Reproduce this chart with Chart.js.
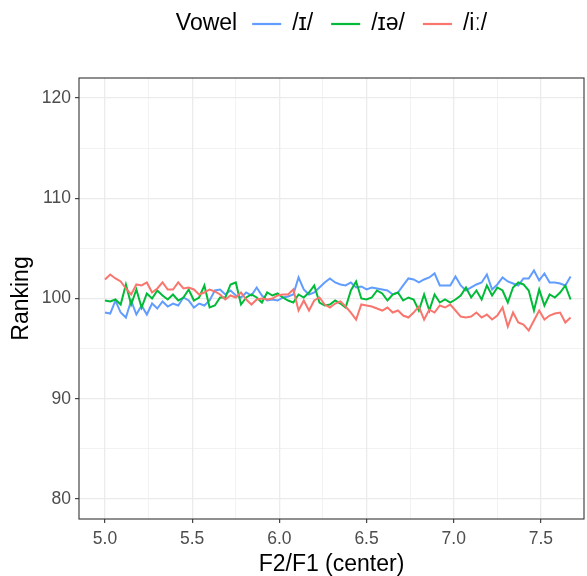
<!DOCTYPE html>
<html>
<head>
<meta charset="utf-8">
<script src="https://cdn.jsdelivr.net/npm/chart.js@4/dist/chart.umd.min.js"></script>
<style>
  html, body { margin: 0; padding: 0; background: #ffffff; }
  #wrap { width: 587px; height: 576px; }
</style>
</head>
<body>
<div id="wrap"><canvas id="vowelChart" width="587" height="576"></canvas></div>
<script>
// F2/F1 (center) values shared by all three vowels
const f2f1 = [5.00, 5.03, 5.06, 5.09, 5.12, 5.15, 5.18, 5.21, 5.24, 5.27,
    5.30, 5.33, 5.36, 5.39, 5.42, 5.45, 5.48, 5.51, 5.54, 5.57,
    5.60, 5.63, 5.66, 5.69, 5.72, 5.75, 5.78, 5.81, 5.84, 5.87,
    5.90, 5.93, 5.96, 5.99, 6.02, 6.05, 6.08, 6.11, 6.14, 6.17,
    6.20, 6.23, 6.26, 6.29, 6.32, 6.35, 6.38, 6.41, 6.44, 6.47,
    6.50, 6.53, 6.56, 6.59, 6.62, 6.65, 6.68, 6.71, 6.74, 6.77,
    6.80, 6.83, 6.86, 6.89, 6.92, 6.95, 6.98, 7.01, 7.04, 7.07,
    7.10, 7.13, 7.16, 7.19, 7.22, 7.25, 7.28, 7.31, 7.34, 7.37,
    7.40, 7.43, 7.46, 7.49, 7.52, 7.55, 7.58, 7.61, 7.64, 7.67];

// Ranking per vowel
const rankI = [98.6, 98.5, 99.8, 98.6, 98.1, 99.8, 98.4, 99.3, 98.4, 99.5,
    99.0, 99.7, 99.2, 99.5, 99.3, 100.1, 99.8, 99.1, 99.5, 99.3,
    99.8, 100.8, 100.9, 100.4, 100.8, 100.3, 100.1, 100.6, 100.3, 101.1,
    100.3, 99.8, 99.9, 99.8, 100.1, 100.2, 100.4, 102.1, 100.9, 100.4,
    100.6, 101.1, 101.6, 102.0, 101.6, 101.4, 101.3, 101.6, 101.1, 101.2,
    100.9, 101.1, 101.0, 100.9, 100.8, 100.4, 100.6, 101.3, 102.0, 101.9,
    101.6, 101.9, 102.1, 102.5, 101.3, 101.3, 101.3, 102.2, 101.3, 100.8,
    101.1, 101.4, 101.6, 102.4, 100.9, 101.4, 102.1, 101.7, 101.5, 101.3,
    102.0, 102.0, 102.8, 101.8, 102.5, 101.6, 101.6, 101.5, 101.3, 102.2];

const rankIe = [99.8, 99.7, 99.9, 99.4, 101.4, 99.4, 100.9, 99.1, 100.5, 100.0,
    100.8, 100.3, 99.9, 100.4, 99.8, 100.1, 100.9, 99.8, 100.1, 101.3,
    99.1, 99.3, 100.1, 100.1, 101.4, 101.6, 99.4, 100.1, 100.4, 100.1,
    99.6, 100.6, 100.3, 100.5, 100.1, 99.8, 99.6, 100.4, 100.1, 100.6,
    101.3, 99.6, 99.3, 99.4, 99.8, 99.5, 99.1, 100.8, 101.7, 100.0,
    99.9, 100.1, 100.8, 100.5, 99.8, 100.4, 100.6, 99.8, 100.1, 99.9,
    98.8, 100.4, 98.8, 100.4, 99.6, 99.9, 99.6, 99.9, 100.3, 101.1,
    100.1, 100.8, 99.9, 101.3, 100.3, 101.1, 100.8, 99.6, 101.1, 101.6,
    101.4, 100.8, 98.8, 100.9, 99.3, 100.4, 100.1, 100.6, 101.3, 99.9];

const rankIi = [101.9, 102.4, 102.0, 101.7, 101.0, 100.4, 101.4, 101.3, 101.6, 100.6,
    101.0, 101.6, 100.9, 100.9, 101.6, 101.0, 101.1, 100.9, 100.4, 100.6,
    100.9, 100.7, 100.4, 99.9, 100.3, 100.1, 100.6, 99.9, 99.4, 99.9,
    100.0, 99.9, 100.0, 100.3, 100.4, 100.4, 100.9, 98.8, 99.8, 98.8,
    99.8, 100.1, 99.4, 99.1, 99.5, 99.7, 99.2, 98.6, 97.9, 99.4,
    99.3, 99.2, 99.0, 98.8, 99.1, 98.6, 98.8, 98.3, 98.1, 98.6,
    99.2, 97.9, 98.9, 98.6, 99.3, 99.1, 99.4, 98.8, 98.2, 98.1,
    98.2, 98.6, 98.1, 98.4, 97.9, 98.3, 99.1, 97.2, 98.6, 97.6,
    97.4, 96.8, 97.8, 98.8, 97.9, 98.3, 98.5, 98.6, 97.6, 98.1];

const vowels = ["/ɪ/", "/ɪə/", "/iː/"];
const vowelColors = ["#619CFF", "#00BA38", "#F8766D"];

const xMajor = [5.0, 5.5, 6.0, 6.5, 7.0, 7.5];
const xMinor = [5.25, 5.75, 6.25, 6.75, 7.25];
const yMajor = [80, 90, 100, 110, 120];
const yMinor = [85, 95, 105, 115];

const FONT = '"Liberation Sans", Arial, Helvetica, sans-serif';

function toPoints(ys) {
    return f2f1.map((x, i) => ({ x: x, y: ys[i] }));
}

function gridSetup(major, minor) {
    return {
        afterBuildTicks: scale => {
            scale.ticks = major.concat(minor).sort((a, b) => a - b).map(v => ({ value: v }));
        },
        isMajor: v => major.some(m => Math.abs(m - v) < 1e-9)
    };
}

const xGrid = gridSetup(xMajor, xMinor);
const yGrid = gridSetup(yMajor, yMinor);

// panel border + ggplot style legend on top
const panelAndLegend = {
    id: "panelAndLegend",
    afterDraw(chart) {
        const { ctx, chartArea: a } = chart;
        ctx.save();
        ctx.strokeStyle = "#333333";
        ctx.lineWidth = 1.1;
        ctx.strokeRect(a.left, a.top, a.right - a.left, a.bottom - a.top);

        ctx.font = "23px " + FONT;
        ctx.textBaseline = "middle";
        ctx.fillStyle = "#000000";
        const keyW = 29, keyGap = 11, itemGap = 18, titleGap = 15;
        const title = "Vowel";
        const titleW = ctx.measureText(title).width;
        const labelW = vowels.map(v => ctx.measureText(v).width);
        let total = titleW + titleGap;
        labelW.forEach((w, i) => {
            total += keyW + keyGap + w + (i < labelW.length - 1 ? itemGap : 0);
        });
        const cy = 24;
        let x = (a.left + a.right) / 2 - total / 2;
        ctx.fillText(title, x, cy);
        x += titleW + titleGap;
        vowels.forEach((v, i) => {
            ctx.strokeStyle = vowelColors[i];
            ctx.lineWidth = 2.2;
            ctx.beginPath();
            ctx.moveTo(x, cy);
            ctx.lineTo(x + keyW, cy);
            ctx.stroke();
            x += keyW + keyGap;
            ctx.fillStyle = "#000000";
            ctx.fillText(v, x, cy);
            x += labelW[i] + itemGap;
        });
        ctx.restore();
    }
};

const datasets = [rankI, rankIe, rankIi].map((ys, i) => ({
    label: vowels[i],
    data: toPoints(ys),
    borderColor: vowelColors[i],
    backgroundColor: vowelColors[i],
    borderWidth: 2,
    pointRadius: 0,
    tension: 0,
    order: 3 - i
}));

new Chart(document.getElementById("vowelChart").getContext("2d"), {
    type: "line",
    data: { datasets: datasets },
    options: {
        responsive: false,
        animation: false,
        layout: { padding: { left: 0, top: 78, right: 3, bottom: 0 } },
        plugins: {
            legend: { display: false },
            tooltip: { enabled: false }
        },
        scales: {
            x: {
                type: "linear",
                min: 4.851,
                max: 7.747,
                afterBuildTicks: xGrid.afterBuildTicks,
                afterFit: scale => { scale.height = 57; },
                border: { display: false },
                grid: {
                    color: "#EBEBEB",
                    lineWidth: c => xGrid.isMajor(c.tick.value) ? 1.3 : 0.65,
                    tickColor: c => xGrid.isMajor(c.tick.value) ? "#333333" : "rgba(0,0,0,0)",
                    tickLength: 4,
                    tickWidth: 1.1
                },
                ticks: {
                    autoSkip: false,
                    maxRotation: 0,
                    padding: 6,
                    color: "#4D4D4D",
                    font: { family: FONT, size: 17.5 },
                    callback: v => xGrid.isMajor(v) ? v.toFixed(1) : ""
                },
                title: {
                    display: true,
                    text: "F2/F1 (center)",
                    color: "#000000",
                    font: { family: FONT, size: 23, lineHeight: 1 },
                    padding: { top: 0, bottom: 0 }
                }
            },
            y: {
                min: 78,
                max: 122,
                afterBuildTicks: yGrid.afterBuildTicks,
                afterFit: scale => { scale.width = 79; },
                border: { display: false },
                grid: {
                    color: "#EBEBEB",
                    lineWidth: c => yGrid.isMajor(c.tick.value) ? 1.3 : 0.65,
                    tickColor: c => yGrid.isMajor(c.tick.value) ? "#333333" : "rgba(0,0,0,0)",
                    tickLength: 4,
                    tickWidth: 1.1
                },
                ticks: {
                    autoSkip: false,
                    padding: 4,
                    color: "#4D4D4D",
                    font: { family: FONT, size: 17.5 },
                    callback: v => yGrid.isMajor(v) ? String(v) : ""
                },
                title: {
                    display: true,
                    text: "Ranking",
                    color: "#000000",
                    font: { family: FONT, size: 23, lineHeight: 1 },
                    padding: { top: 10, bottom: 0 }
                }
            }
        }
    },
    plugins: [panelAndLegend]
});
</script>
</body>
</html>
